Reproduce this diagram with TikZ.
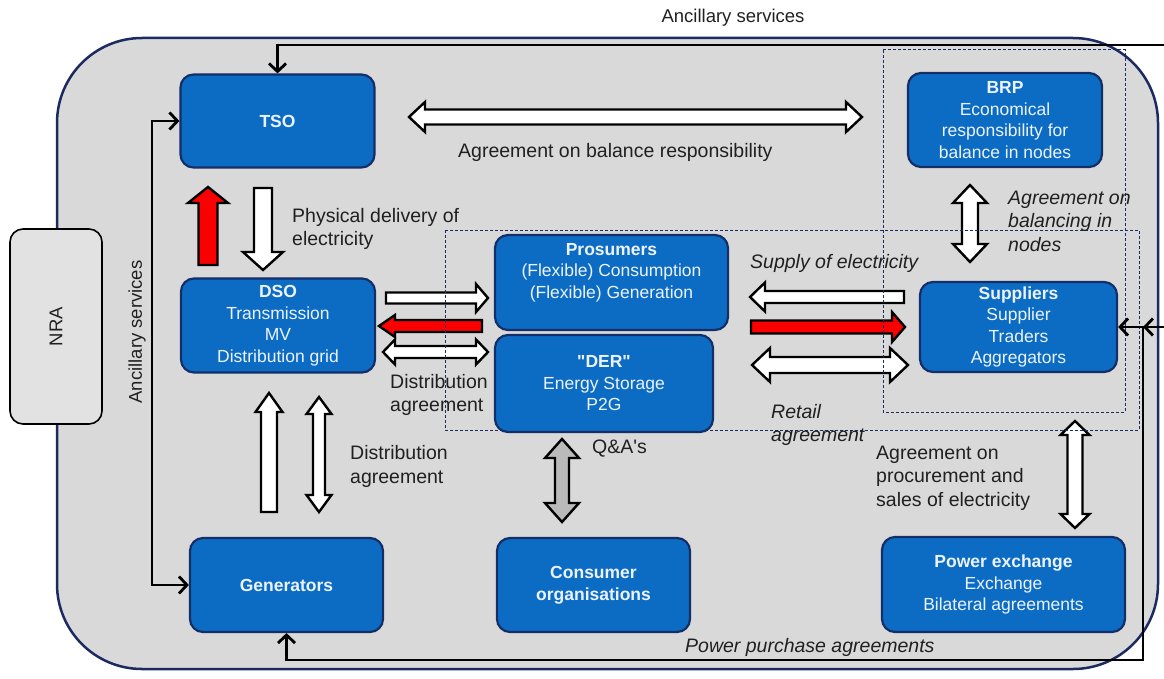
\documentclass[tikz,border=0pt]{standalone}
\usepackage{fontspec}
\setmainfont{Liberation Sans}
\usetikzlibrary{arrows.meta}

\definecolor{panel}{RGB}{217,217,217}
\definecolor{navy}{RGB}{28,42,98}
\definecolor{boxblue}{RGB}{12,108,196}
\definecolor{boxedge}{RGB}{20,46,104}
\definecolor{boxtext}{RGB}{236,243,255}
\definecolor{flowred}{RGB}{250,0,0}
\definecolor{qagray}{RGB}{186,186,186}
\definecolor{labelgray}{RGB}{32,32,32}
\definecolor{nrafill}{RGB}{226,226,226}

% Block arrows (coordinates in pixels, y grows downwards)
% double horizontal: style, left x, right x, y, half shaft, half head, head length
\newcommand\DArrH[7]{\draw[#1] (#2,#4) -- ({#2+#7},{#4-#6}) -- ({#2+#7},{#4-#5}) -- ({#3-#7},{#4-#5}) -- ({#3-#7},{#4-#6}) -- (#3,#4) -- ({#3-#7},{#4+#6}) -- ({#3-#7},{#4+#5}) -- ({#2+#7},{#4+#5}) -- ({#2+#7},{#4+#6}) -- cycle;}
% double vertical: style, x, top y, bottom y, half shaft, half head, head length
\newcommand\DArrV[7]{\draw[#1] (#2,#3) -- ({#2+#6},{#3+#7}) -- ({#2+#5},{#3+#7}) -- ({#2+#5},{#4-#7}) -- ({#2+#6},{#4-#7}) -- (#2,#4) -- ({#2-#6},{#4-#7}) -- ({#2-#5},{#4-#7}) -- ({#2-#5},{#3+#7}) -- ({#2-#6},{#3+#7}) -- cycle;}
% single horizontal: style, tail x, tip x, y, half shaft, half head, signed head length
\newcommand\SArrH[7]{\draw[#1] (#2,{#4-#5}) -- ({#3-(#7)},{#4-#5}) -- ({#3-(#7)},{#4-#6}) -- (#3,#4) -- ({#3-(#7)},{#4+#6}) -- ({#3-(#7)},{#4+#5}) -- (#2,{#4+#5}) -- cycle;}
% single vertical: style, x, tail y, tip y, half shaft, half head, signed head length
\newcommand\SArrV[7]{\draw[#1] ({#2-#5},#3) -- ({#2-#5},{#4-(#7)}) -- ({#2-#6},{#4-(#7)}) -- (#2,#4) -- ({#2+#6},{#4-(#7)}) -- ({#2+#5},{#4-(#7)}) -- ({#2+#5},#3) -- cycle;}

\tikzset{
  barb/.tip={Straight Barb[length=8pt,width=17pt]},
  actor/.style={draw=boxedge, line width=2.2pt, fill=boxblue, rounded corners=13pt,
    text=boxtext, align=center, inner sep=0pt,
    font=\fontsize{17.5}{21.5}\selectfont},
  actortext/.style={text=boxtext, align=center, inner sep=0pt,
    font=\fontsize{17.5}{21.5}\selectfont},
  lbl/.style={text=labelgray, align=left, inner sep=0pt, anchor=west,
    font=\fontsize{19.5}{23.5}\selectfont},
  lbli/.style={lbl, font=\fontsize{19.5}{23.5}\selectfont\itshape},
  conn/.style={draw=black, line width=2.8pt, -barb},
  conntwo/.style={draw=black, line width=2.8pt, barb-barb},
  hollow/.style={draw=black, line width=2.4pt, fill=white, line join=miter},
  redflow/.style={hollow, fill=flowred},
  qaflow/.style={hollow, fill=qagray},
  dashframe/.style={draw=navy, line width=1pt, dash pattern=on 3pt off 2pt},
}

\begin{document}
\begin{tikzpicture}[x=1pt,y=-1pt]
\useasboundingbox (0,0) rectangle (1164,679);

% market frame
\node[draw=navy, line width=2.5pt, fill=panel, rounded corners=85pt,
      minimum width=1101pt, minimum height=631pt, inner sep=0pt] (frame) at (607.5,353.5) {};

% regulator
\node[draw=black, line width=1.6pt, fill=nrafill, rounded corners=13pt, rotate=90,
      minimum width=195pt, minimum height=92pt, inner sep=0pt,
      font=\fontsize{18.5}{22}\selectfont, text=labelgray] (nra) at (56,326.5) {NRA};

% block arrows
\DArrH{hollow}{409}{862}{117}{7.5}{15}{16}
\SArrV{redflow}{208}{265}{187}{9.5}{20}{-16}
\SArrV{hollow}{263}{188}{270}{9}{20}{18}
\SArrH{hollow}{386}{488}{298}{5.5}{14}{12}
\SArrH{redflow}{482}{379}{326}{6}{11}{-16}
\DArrH{hollow}{383}{488}{352}{6}{12.5}{12}
\SArrH{hollow}{904}{750}{297}{6}{14.5}{-15}
\SArrH{redflow}{751}{905}{327}{6.5}{15}{13}
\DArrH{hollow}{752}{908}{365}{8}{17}{18}
\DArrV{hollow}{970}{185}{262}{8}{17}{18}
\SArrV{hollow}{269}{512}{393}{8}{13.5}{-19}
\DArrV{hollow}{319}{397}{512}{6}{12.5}{17}
\DArrV{qaflow}{562}{439}{522}{7}{17}{19}
\DArrV{hollow}{1075}{421}{528}{7.5}{14.5}{14}

% groupings
\draw[dashframe] (883,50) rectangle (1125,412);
\draw[dashframe] (445,230) rectangle (1139,430);

% actors
\node[actor, minimum width=194pt, minimum height=93pt] (tso) at (277.5,121) {\textbf{TSO}};
\node[actor, minimum width=194pt, minimum height=94pt] (dso) at (278,325.5)
  {\textbf{DSO}\\Transmission\\MV\\Distribution grid};
\node[actor, minimum width=193pt, minimum height=94pt] (gen) at (286.5,585) {\textbf{Generators}};
\node[actor, minimum width=233pt, minimum height=95pt] (pros) at (611.5,282.5) {};
\node[actortext] (prostext) at (611.5,272.5)
  {\textbf{Prosumers}\\(Flexible) Consumption\\(Flexible) Generation};
\node[actor, minimum width=218pt, minimum height=97pt] (der) at (604,383.5)
  {\textbf{\textquotedbl DER\textquotedbl}\\Energy Storage\\P2G};
\node[actor, minimum width=193pt, minimum height=94pt] (cons) at (593.5,585)
  {\textbf{Consumer}\\\textbf{organisations}};
\node[actor, minimum width=243pt, minimum height=95pt] (pex) at (1003.5,584.5)
  {\textbf{Power exchange}\\Exchange\\Bilateral agreements};
\node[actor, minimum width=194pt, minimum height=94pt] (brp) at (1005,120)
  {\textbf{BRP}\\Economical\\responsibility for\\balance in nodes};
\node[actor, minimum width=197pt, minimum height=90pt] (sup) at (1018.5,327)
  {\textbf{Suppliers}\\Supplier\\Traders\\Aggregators};

% service lines
\coordinate (topR) at (1164,45);
\coordinate (ancRail) at (152,350);
\coordinate (ppaCorner) at (1143,660);
\coordinate (extR) at (1164,327);
\draw[conn] (topR) -| (tso.north);
\draw[conntwo] (tso.west) -| (ancRail) |- (gen.west);
\draw[conntwo] (gen.south) |- (ppaCorner) |- (sup.east);
\draw[conn] (extR) -- (ppaCorner |- sup.east);

% labels
\node[lbl, anchor=center, font=\fontsize{18.5}{22}\selectfont] (ancTop) at (733,18) {Ancillary services};
\node[lbl, anchor=center, rotate=90, font=\fontsize{18.5}{22}\selectfont] (ancLeft) at (137,332) {Ancillary services};
\node[lbl] (balTxt) at (458,152) {Agreement on balance responsibility};
\node[lbl] (physTxt) at (292,229) {Physical delivery of\\electricity};
\node[lbli] (supplyTxt) at (750,263) {Supply of electricity};
\node[lbli] (balNodesTxt) at (1008,221) {Agreement on\\balancing in\\nodes};
\node[lbl] (distTxtA) at (390,395) {Distribution\\agreement};
\node[lbli] (retailTxt) at (771,425) {Retail\\agreement};
\node[lbl] (qaTxt) at (592,449) {Q\&A\textquotesingle s};
\node[lbl] (distTxtB) at (350,466.5) {Distribution\\agreement};
\node[lbl] (procTxt) at (876,478) {Agreement on\\procurement and\\sales of electricity};
\node[lbli] (ppaTxt) at (685,647) {Power purchase agreements};
\end{tikzpicture}
\end{document}
